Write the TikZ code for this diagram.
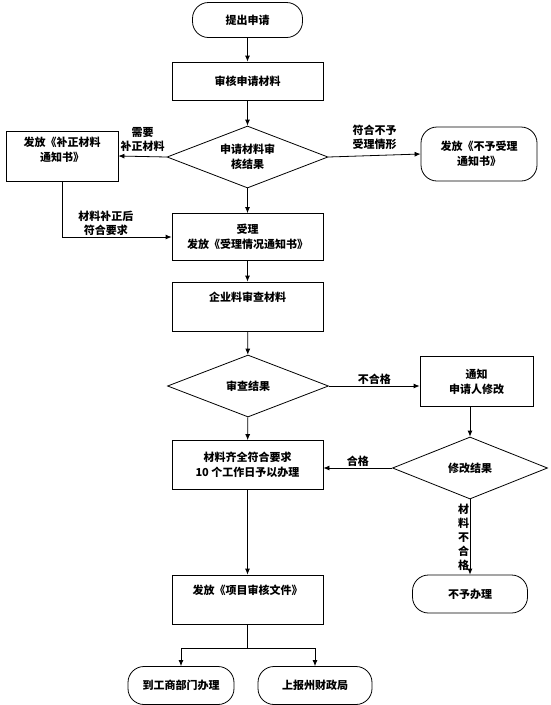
\documentclass[tikz,border=0pt]{standalone}
\usepackage{fontspec}
\setmainfont{Noto Sans CJK SC}
\usepackage{tikz}
\usetikzlibrary{shapes.geometric,arrows.meta}

\tikzset{
  txt/.style={font=\fontsize{11}{15}\selectfont\bfseries},
  box/.style={txt,draw,line width=0.8pt,minimum width=151pt,minimum height=48pt,align=center,inner sep=0pt},
  terminal/.style={box,rounded corners=16pt},
  decision/.style={txt,draw,line width=0.8pt,diamond,aspect=2.5,inner sep=0pt,minimum width=161pt,minimum height=62pt,align=center},
  arr/.style={line width=0.8pt,-{Latex[length=6pt,width=5pt]}},
  lbl/.style={txt,font=\fontsize{11}{14}\selectfont\bfseries,align=center,inner sep=1pt}
}

\begin{document}
\begin{tikzpicture}[x=1pt,y=-1pt]
      \useasboundingbox (0,0) rectangle (551,705);

      \node[terminal,minimum width=110pt,minimum height=35pt] (start) at (247.5,20) {提出申请};
      \node[box,minimum height=38pt] (check) at (247.5,81) {审核申请材料};
      \node[decision] (result1) at (247.5,157) {申请材料审\\核结果};
      \node[box,minimum width=112pt,minimum height=50pt] (fixnote) at (62,156) {发放《补正材料\\通知书》\\[-6pt]\strut};
      \node[terminal,minimum width=116pt,minimum height=54pt] (rejectnote) at (479,154) {发放《不予受理\\通知书》};
      \node[box,minimum height=47pt] (accept) at (247.5,237) {受理\\发放《受理情况通知书》};
      \node[box,minimum height=49pt] (review) at (247.5,306.5) {企业料审查材料\\\strut};
      \node[decision] (result2) at (248,386) {审查结果};
      \node[box,minimum width=113pt,minimum height=50pt] (notify) at (476.5,381.5) {通知\\申请人修改};
      \node[box,minimum height=49pt] (handle) at (247.5,465) {材料齐全符合要求\\10 个工作日予以办理};
      \node[decision,minimum width=155pt] (result3) at (470,468) {修改结果};
      \node[terminal,minimum width=115pt,minimum height=38pt] (refuse) at (470,594) {不予办理};
      \node[box,minimum height=49pt] (issue) at (247.5,599.5) {发放《项目审核文件》\\\strut};
      \node[terminal,minimum width=106pt,minimum height=38pt] (commerce) at (181,685.5) {到工商部门办理};
      \node[terminal,minimum width=114pt,minimum height=38pt] (finance) at (315,685.5) {上报州财政局};

      \draw[arr] (start) -- (check);
      \draw[arr] (check) -- (result1);
      \draw[arr] (result1.west) -- node[lbl,above,yshift=4pt] {需要\\补正材料} (fixnote.east);
      \draw[arr] (result1.east) -- node[lbl,above,yshift=4pt] {符合不予\\受理情形} (rejectnote.west);
      \draw[arr] (result1) -- (accept);
      \draw[arr] (fixnote.south) |- node[lbl,above,pos=0.7] {材料补正后\\符合要求} (accept.west);
      \draw[arr] (accept) -- (review);
      \draw[arr] (review) -- (result2);
      \draw[arr] (result2.east) -- node[lbl,above] {不合格} (result2.east -| notify.west);
      \draw[arr] (notify.south -| result3.north) -- (result3.north);
      \draw[arr] (result2) -- (handle);
      \draw[arr] (result3.west) -- node[lbl,above] {合格} (result3.west -| handle.east);
      \draw[arr] (result3.south) -- node[lbl,left,inner sep=0.5pt] {材\\料\\不\\合\\格} (refuse.north);
      \draw[arr] (handle) -- (issue);
      \draw[line width=0.8pt] (issue.south) -- ++(0,23.5) coordinate (split);
      \draw[arr] (split) -| (commerce.north);
      \draw[arr] (split) -| (finance.north);
    \end{tikzpicture}
\end{document}
